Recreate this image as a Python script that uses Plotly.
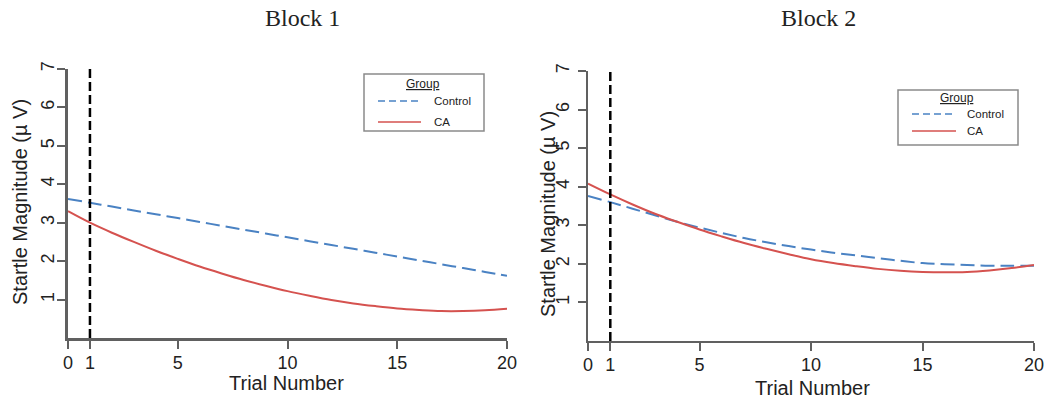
import plotly.graph_objects as go

# ---- data ----
trials = list(range(0, 21))
block1_control = [3.62, 3.52, 3.42, 3.32, 3.22, 3.12, 3.02, 2.92, 2.82, 2.72, 2.62,
                  2.52, 2.42, 2.32, 2.22, 2.12, 2.02, 1.92, 1.82, 1.72, 1.62]
block1_ca = [3.30, 3.00, 2.74, 2.50, 2.27, 2.06, 1.86, 1.68, 1.51, 1.36, 1.22,
             1.10, 0.99, 0.90, 0.83, 0.77, 0.73, 0.70, 0.70, 0.72, 0.76]
block2_control = [3.76, 3.60, 3.43, 3.26, 3.09, 2.94, 2.80, 2.67, 2.56, 2.46, 2.37,
                  2.29, 2.22, 2.15, 2.08, 2.02, 1.99, 1.97, 1.95, 1.95, 1.95]
block2_ca = [4.08, 3.80, 3.54, 3.30, 3.09, 2.89, 2.71, 2.54, 2.39, 2.25, 2.12,
             2.02, 1.94, 1.87, 1.82, 1.79, 1.78, 1.79, 1.83, 1.89, 1.97]
marker_trial = 1
x_tickvals = [0, 1, 5, 10, 15, 20]
y_tickvals = [1, 2, 3, 4, 5, 6, 7]
x_range = [0, 20]
y_range = [0, 7]
panel_titles = ["Block 1", "Block 2"]
group_names = ["Control", "CA"]
legend_title = "Group"

BLUE = "#4a82c3"
RED = "#d5524f"
AX = "#606060"
TXT = "#222222"
SANS = "Liberation Sans, Arial, sans-serif"
SERIF = "Liberation Serif, Times New Roman, serif"

# page body adds an 8px offset; figure coordinates below are page pixels
OFF = 8
W, H = 1062 - OFF, 404 - OFF


def fx(px):
    return (px - OFF) / W


def fy(py):
    return 1 - (py - OFF) / H


fig = go.Figure()

panels = [
    (block1_control, block1_ca, "x", "y"),
    (block2_control, block2_ca, "x2", "y2"),
]
for ctrl, ca, xa, ya in panels:
    fig.add_trace(go.Scatter(x=trials, y=ctrl, mode="lines", name=group_names[0],
                             line=dict(color=BLUE, width=2, dash="14px,6px", shape="spline"),
                             xaxis=xa, yaxis=ya, showlegend=False))
    fig.add_trace(go.Scatter(x=trials, y=ca, mode="lines", name=group_names[1],
                             line=dict(color=RED, width=2, shape="spline"),
                             xaxis=xa, yaxis=ya, showlegend=False))
    fig.add_shape(type="line", xref=xa, yref=ya, x0=marker_trial, x1=marker_trial,
                  y0=y_range[0], y1=y_range[1],
                  line=dict(color="black", width=2.5, dash="9px,4px"))


def xax(domain, lw, anchor, standoff):
    return dict(domain=domain, range=x_range, tickvals=x_tickvals, ticks="outside",
                ticklen=8, tickwidth=1.5, tickcolor=AX, showline=True, linecolor=AX,
                linewidth=lw, showgrid=False, zeroline=False, automargin=False,
                ticklabelstandoff=standoff,
                tickfont=dict(family=SANS, size=18, color=TXT), anchor=anchor)


def yax(domain, lw, anchor, standoff):
    return dict(domain=domain, range=y_range, tickvals=y_tickvals, ticks="outside",
                ticklen=8, tickwidth=1.5, tickcolor=AX, showline=True, linecolor=AX,
                linewidth=lw, showgrid=False, zeroline=False, tickangle=-90,
                automargin=False, anchor=anchor, ticklabelstandoff=standoff,
                tickfont=dict(family=SANS, size=18, color=TXT))


def ann(text, px, py, size, family, angle=0, xanchor="center"):
    return dict(text=text, x=fx(px), y=fy(py), xref="paper", yref="paper",
                xanchor=xanchor, yanchor="middle", textangle=angle,
                showarrow=False, font=dict(family=family, size=size, color=TXT))


annotations = [
    ann(panel_titles[0], 302, 18, 24, SERIF),
    ann(panel_titles[1], 818, 18, 24, SERIF),
    ann("Startle Magnitude (µ V)", 20, 202, 20, SANS, -90),
    ann("Startle Magnitude (µ V)", 548, 214, 20, SANS, -90),
    ann("Trial Number", 286, 383, 20, SANS),
    ann("Trial Number", 812, 388, 20, SANS),
]

shapes = []
# manual legend boxes: (left, top, right, bottom, title_cx, title_cy, line_x0, line_x1, text_x, row1_y, row2_y)
legend_boxes = [
    (364, 74, 484, 131, 423, 84, 378, 421, 432, 101, 122),
    (898, 90, 1018, 145, 957, 98, 912, 956, 965, 114, 131),
]
for (l, t, r, b, tcx, tcy, lx0, lx1, tx, y1, y2) in legend_boxes:
    shapes.append(dict(type="rect", xref="paper", yref="paper",
                       x0=fx(l), x1=fx(r), y0=fy(b), y1=fy(t),
                       line=dict(color="#8a8a8a", width=1.5), fillcolor="white", layer="above"))
    shapes.append(dict(type="line", xref="paper", yref="paper",
                       x0=fx(lx0), x1=fx(lx1), y0=fy(y1), y1=fy(y1),
                       line=dict(color=BLUE, width=1.5, dash="7px,4px"), layer="above"))
    shapes.append(dict(type="line", xref="paper", yref="paper",
                       x0=fx(lx0), x1=fx(lx1), y0=fy(y2), y1=fy(y2),
                       line=dict(color=RED, width=1.5), layer="above"))
    annotations.append(ann("<u>" + legend_title + "</u>", tcx, tcy, 12, SANS))
    annotations.append(ann(group_names[0], tx, y1, 11.5, SANS, xanchor="left"))
    annotations.append(ann(group_names[1], tx, y2, 11.5, SANS, xanchor="left"))

fig.update_layout(
    width=W, height=H,
    margin=dict(l=0, r=0, t=0, b=0, autoexpand=False),
    paper_bgcolor="white", plot_bgcolor="white",
    showlegend=False,
    xaxis=xax([fx(68), fx(507)], 3, "y", -2),
    yaxis=yax([fy(338), fy(69)], 3, "x", -4),
    xaxis2=xax([fx(588), fx(1034)], 2, "y2", -2),
    yaxis2=yax([fy(341), fy(71)], 2, "x2", 2),
    annotations=annotations,
)
for s in shapes:
    fig.add_shape(**s)

fig.write_html("out.html")
